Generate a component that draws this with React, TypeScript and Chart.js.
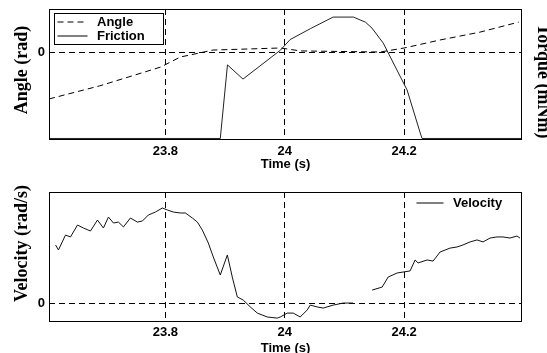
import React, { useEffect, useRef } from 'react';
import { Chart, registerables } from 'chart.js';

Chart.register(...registerables);

// ---- data ----
const xTickValues = [23.8, 24, 24.2];
const timeMin = 23.605;
const timeMax = 24.3975;

const angleTime = [23.605, 23.69, 23.792, 23.825, 23.88, 23.993, 24.026, 24.16, 24.2, 24.26, 24.327, 24.392];
const angleValues = [-1.06, -0.76, -0.33, -0.1, 0.06, 0.107, 0.04, 0.015, 0.107, 0.29, 0.47, 0.7];

const frictionTime = [23.605, 23.892, 23.904, 23.93, 23.993, 24.009, 24.043, 24.081, 24.115, 24.135, 24.146, 24.165, 24.205, 24.227, 24.23, 24.398];
const frictionValues = [-3.93, -3.93, -0.56, -1.21, 0.12, 0.6, 1.1, 1.63, 1.63, 1.4, 1.13, 0.44, -1.71, -3.68, -3.93, -3.93];

const velocityTime = [
  23.6159, 23.6209, 23.6326, 23.641, 23.6527, 23.6628, 23.6745, 23.6862, 23.6962, 23.7046,
  23.713, 23.7213, 23.7297, 23.7414, 23.7531, 23.7615, 23.7715, 23.7833, 23.795, 23.8033,
  23.8134, 23.8251, 23.8335, 23.8452, 23.8536, 23.8619, 23.872, 23.8803, 23.892, 23.9038,
  23.9121, 23.9205, 23.9305, 23.9423, 23.954, 23.9707, 23.9874, 23.9925, 24.0042, 24.0142,
  24.0259, 24.0377, 24.0427, 24.0544, 24.0644, 24.0812, 24.0979, 24.1146, 24.13, 24.1464,
  24.1632, 24.1732, 24.1883, 24.21, 24.2184, 24.2234, 24.2385, 24.2485, 24.2603, 24.277,
  24.2887, 24.2987, 24.3105, 24.3222, 24.3322, 24.3439, 24.3556, 24.3657, 24.3774, 24.3891,
  24.3941,
];
const velocityValues = [
  3.15, 2.88, 3.68, 3.58, 4.22, 4.06, 3.9, 4.49, 4.06, 4.65,
  4.33, 4.38, 4.12, 4.6, 4.38, 4.44, 4.76, 4.92, 5.14, 5.03,
  4.92, 4.87, 4.87, 4.6, 4.38, 3.95, 3.25, 2.5, 1.53, 2.61,
  1.42, 0.35, 0.18, -0.19, -0.52, -0.73, -0.79, -0.73, -0.52, -0.52,
  -0.73, -0.35, -0.09, -0.19, -0.25, -0.09, 0.02, 0.02, null, 0.72,
  0.88, 1.42, 1.64, 1.75, 2.34, 2.18, 2.34, 2.28, 2.77, 2.98,
  3.04, 3.15, 3.31, 3.42, 3.31, 3.52, 3.58, 3.58, 3.52, 3.63,
  3.52,
];

// ---- styling helpers ----
const sansBold = { family: '"Liberation Sans", Arial, sans-serif', weight: 'bold' as const, size: 13 };
const serifBold = { family: '"Liberation Serif", "Times New Roman", serif', weight: 'bold' as const, size: 18 };
const DASH = [6, 4];

function pts(t: number[], v: (number | null)[]) {
  return t.map((x, i) => ({ x, y: v[i] }));
}

function makeSample(dash: number[], x0: number, x1: number) {
  const c = document.createElement('canvas');
  c.width = 36;
  c.height = 5;
  const ctx = c.getContext('2d')!;
  ctx.strokeStyle = '#000';
  ctx.lineWidth = 1;
  ctx.setLineDash(dash);
  ctx.beginPath();
  ctx.moveTo(x0, 2.5);
  ctx.lineTo(x1, 2.5);
  ctx.stroke();
  return c;
}

const framePlugin = {
  id: 'frame',
  afterDatasetsDraw(chart: any) {
    const { ctx, chartArea: a } = chart;
    ctx.save();
    ctx.strokeStyle = '#000';
    ctx.lineWidth = 1;
    ctx.setLineDash([]);
    ctx.strokeRect(a.left + 0.5, a.top + 0.5, a.right - a.left - 1, a.bottom - a.top - 1);
    ctx.restore();
  },
};

function legendPlacer(left: number, top: number, box: { w: number; h: number } | null) {
  return {
    id: 'legendPlacer',
    beforeDraw(chart: any) {
      const lg = chart.legend;
      if (!lg) return;
      lg.left = left;
      lg.top = top;
      lg.right = left + 200;
      lg.bottom = top + 100;
    },
    afterDraw(chart: any) {
      if (!box) return;
      const { ctx } = chart;
      ctx.save();
      ctx.strokeStyle = '#000';
      ctx.lineWidth = 1;
      ctx.setLineDash([]);
      ctx.strokeRect(Math.round(left) + 0.5, Math.round(top - 2) + 0.5, box.w, box.h);
      ctx.restore();
    },
  };
}

function xScale(height: number, tickPad: number, titlePadBottom: number) {
  return {
    type: 'linear' as const,
    min: timeMin,
    max: timeMax,
    afterBuildTicks: (s: any) => {
      s.ticks = xTickValues.map((value) => ({ value }));
    },
    afterFit: (s: any) => {
      s.height = height;
      s.paddingLeft = 0;
      s.paddingRight = 0;
    },
    grid: { color: '#000', lineWidth: 1, drawTicks: false },
    border: { display: false, dash: DASH },
    ticks: {
      padding: tickPad,
      color: '#000',
      font: sansBold,
      autoSkip: false,
      maxRotation: 0,
      callback: (v: any) => String(v),
    },
    title: {
      display: true,
      text: 'Time (s)',
      color: '#000',
      font: sansBold,
      padding: { top: 0, bottom: titlePadBottom },
    },
  };
}

function yScale(min: number, max: number, title: string) {
  return {
    type: 'linear' as const,
    position: 'left' as const,
    min,
    max,
    afterBuildTicks: (s: any) => {
      s.ticks = [{ value: 0 }];
    },
    afterFit: (s: any) => {
      s.width = 49;
      s.paddingTop = 0;
      s.paddingBottom = 0;
    },
    grid: { color: '#000', lineWidth: 1, drawTicks: false },
    border: { display: false, dash: DASH },
    ticks: { padding: 4, color: '#000', font: sansBold, callback: (v: any) => String(v) },
    title: { display: true, text: title, color: '#000', font: serifBold, padding: { top: 12, bottom: 0 } },
  };
}

export default function App() {
  const topRef = useRef<HTMLCanvasElement>(null);
  const botRef = useRef<HTMLCanvasElement>(null);

  useEffect(() => {
    const angleSample = makeSample(DASH, 3, 33);
    const solidSample = makeSample([], 3, 33);
    const velSample = makeSample([], 6, 33);

    const legendLabels = (samples: HTMLCanvasElement[]) => ({
      usePointStyle: true,
      pointStyleWidth: 36,
      padding: 1,
      color: '#000',
      font: sansBold,
      generateLabels: (chart: any) =>
        (Chart.defaults.plugins.legend.labels as any)
          .generateLabels(chart)
          .map((l: any, i: number) => ({ ...l, pointStyle: samples[i], fontColor: '#000' })),
    });

    const top = new Chart(topRef.current!, {
      type: 'line',
      data: {
        datasets: [
          {
            label: 'Angle',
            data: pts(angleTime, angleValues),
            yAxisID: 'y',
            borderColor: '#000',
            borderWidth: 1,
            borderDash: DASH,
            pointRadius: 0,
            tension: 0,
          },
          {
            label: 'Friction',
            data: pts(frictionTime, frictionValues),
            yAxisID: 'y1',
            borderColor: '#222',
            borderWidth: 1,
            pointRadius: 0,
            tension: 0,
          },
        ],
      },
      options: {
        responsive: false,
        animation: false,
        devicePixelRatio: 1,
        layout: { padding: { top: 9, left: 0, right: 0, bottom: 0 } },
        plugins: {
          legend: { position: 'chartArea', align: 'start', labels: legendLabels([angleSample, solidSample]) as any },
          tooltip: { enabled: false },
        },
        scales: {
          x: xScale(36, 4, 4) as any,
          y: yScale(-2, 1, '  Angle (rad)') as any,
          y1: {
            type: 'linear',
            position: 'right',
            min: -4,
            max: 2,
            afterFit: (s: any) => {
              s.width = 25;
              s.paddingTop = 0;
              s.paddingBottom = 0;
            },
            grid: { display: false, drawTicks: false },
            border: { display: false },
            ticks: { display: false },
            title: {
              display: true,
              text: '   Torque (mNm)',
              color: '#000',
              font: serifBold,
              padding: { top: -6, bottom: 0 },
            },
          } as any,
        },
      },
      plugins: [framePlugin, legendPlacer(53.5, 14.5, { w: 109, h: 31 })],
    });

    const bot = new Chart(botRef.current!, {
      type: 'line',
      data: {
        datasets: [
          {
            label: 'Velocity',
            data: pts(velocityTime, velocityValues),
            borderColor: '#111',
            borderWidth: 1,
            pointRadius: 0,
            tension: 0,
            spanGaps: false,
          },
        ],
      },
      options: {
        responsive: false,
        animation: false,
        devicePixelRatio: 1,
        layout: { padding: { top: 16, left: 0, right: 25, bottom: 0 } },
        plugins: {
          legend: { position: 'chartArea', align: 'start', labels: legendLabels([velSample]) as any },
          tooltip: { enabled: false },
        },
        scales: {
          x: xScale(31, 3, -3) as any,
          y: yScale(-1, 6, '      Velocity (rad/s)') as any,
        },
      },
      plugins: [framePlugin, legendPlacer(409.5, 19.5, null)],
    });

    return () => {
      top.destroy();
      bot.destroy();
    };
  }, []);

  return (
    <div style={{ position: 'absolute', left: 0, top: 0, width: 547, height: 353, background: '#fff' }}>
      <canvas ref={topRef} width={547} height={176} style={{ display: 'block' }} />
      <canvas ref={botRef} width={547} height={177} style={{ display: 'block' }} />
    </div>
  );
}
